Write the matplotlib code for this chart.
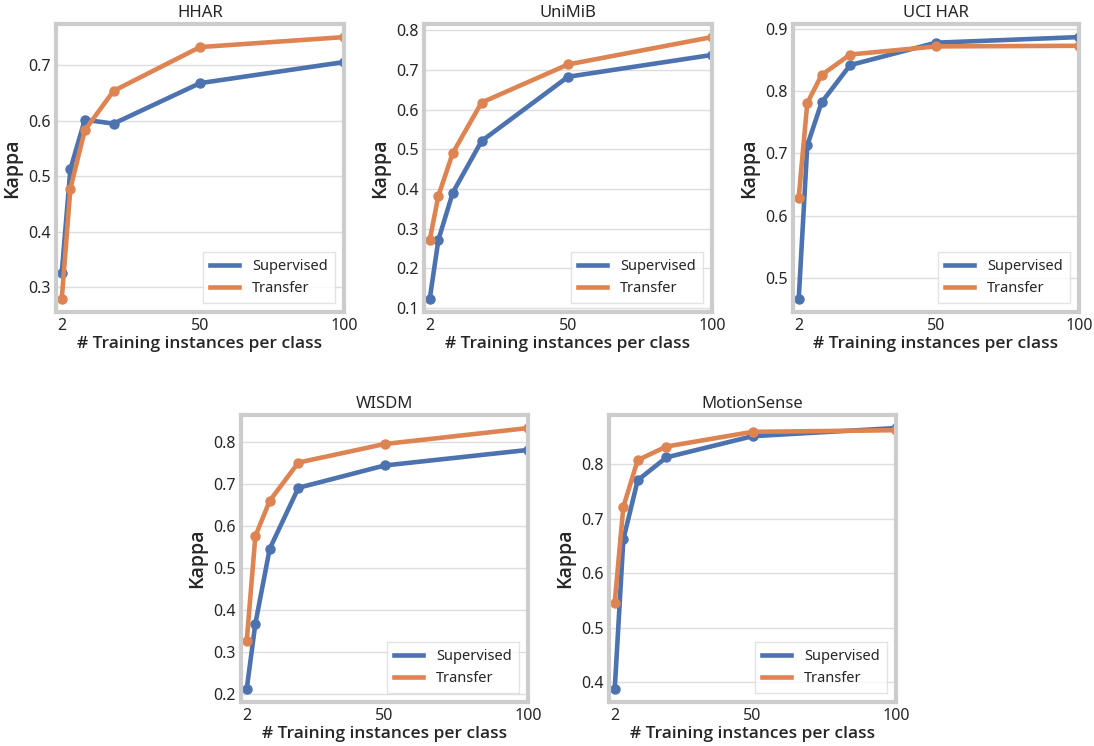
import matplotlib
matplotlib.use("Agg")
import matplotlib.pyplot as plt
from matplotlib.lines import Line2D

plt.rcParams['font.family'] = ['Noto Sans', 'DejaVu Sans']

# training instances per class
n_train = [2, 5, 10, 20, 50, 100]

hhar_sup = [0.326, 0.513, 0.602, 0.595, 0.668, 0.706]
hhar_tr = [0.279, 0.478, 0.583, 0.654, 0.733, 0.751]

unimib_sup = [0.123, 0.272, 0.391, 0.521, 0.683, 0.738]
unimib_tr = [0.272, 0.383, 0.491, 0.618, 0.714, 0.783]

ucihar_sup = [0.466, 0.713, 0.782, 0.842, 0.878, 0.887]
ucihar_tr = [0.629, 0.781, 0.826, 0.859, 0.872, 0.873]

wisdm_sup = [0.212, 0.367, 0.545, 0.690, 0.743, 0.780]
wisdm_tr = [0.326, 0.575, 0.659, 0.750, 0.794, 0.832]

motion_sup = [0.387, 0.662, 0.771, 0.813, 0.852, 0.867]
motion_tr = [0.546, 0.722, 0.808, 0.833, 0.860, 0.863]

datasets = ['HHAR', 'UniMiB', 'UCI HAR', 'WISDM', 'MotionSense']
sup_vals = [hhar_sup, unimib_sup, ucihar_sup, wisdm_sup, motion_sup]
tr_vals = [hhar_tr, unimib_tr, ucihar_tr, wisdm_tr, motion_tr]

blue = '#4C72B0'
orange = '#DD8452'
txt = '#262626'
label_font = ['Open Sans', 'DejaVu Sans']

# axes boxes in pixels: left, top, right, bottom
boxes = [(56, 24, 344, 312), (424, 24, 712, 312), (793, 24, 1079, 312),
         (241, 415, 528, 702), (609, 415, 896, 702)]

W, H = 1094, 746
fig = plt.figure(figsize=(W / 100, H / 100), dpi=100)

for name, sup, tr, (l, t, r, b) in zip(datasets, sup_vals, tr_vals, boxes):
    ax = fig.add_axes([l / W, 1 - b / H, (r - l) / W, (b - t) / H])
    ax.plot(n_train, sup, marker='o', color=blue, lw=3.3, ms=6.5)
    ax.plot(n_train, tr, marker='o', color=orange, lw=3.3, ms=6.5)
    ax.set_xlim(0, 100)
    ax.set_xticks([2, 50, 100])
    ax.set_title(name, fontsize=12, color=txt, pad=5)
    ax.set_xlabel('# Training instances per class', fontsize=12.5, color=txt,
                  family=label_font, fontweight='semibold', labelpad=2)
    ax.set_ylabel('Kappa', fontsize=14, color=txt, family=label_font,
                  fontweight='semibold', labelpad=4)
    ax.tick_params(length=0, labelsize=11.5, labelcolor=txt, pad=4)
    ax.grid(axis='y', color='#dddddd', lw=1)
    ax.set_axisbelow(True)
    for s in ax.spines.values():
        s.set_color('#cccccc')
        s.set_linewidth(3)
    handles = [Line2D([], [], color=blue, lw=3.3), Line2D([], [], color=orange, lw=3.3)]
    leg = ax.legend(handles, ['Supervised', 'Transfer'], loc='lower right', fontsize=10.5,
                    handlelength=2.0, fancybox=False, borderpad=0.5, labelspacing=0.45,
                    handletextpad=0.9, borderaxespad=0.6)
    leg.get_frame().set_edgecolor('#dddddd')
    for t_ in leg.get_texts():
        t_.set_color(txt)

fig.savefig('out.png', dpi=100)
